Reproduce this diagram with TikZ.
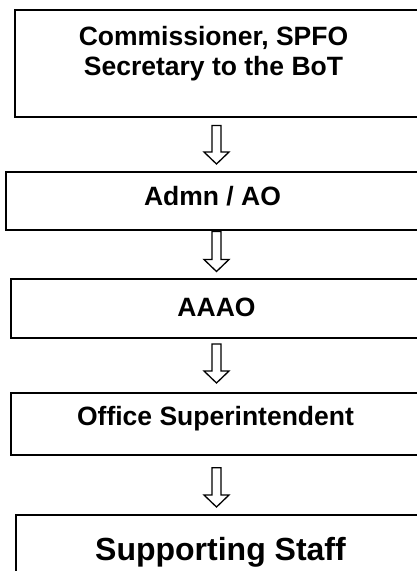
\documentclass[tikz,border=0pt]{standalone}
\usepackage{fontspec}
\setmainfont{Liberation Sans}
\usetikzlibrary{calc}
\newcommand\blockarrow[2]{%
  \draw[blockarrow] ($(#1)+(-4.5,0)$) -- ($(#2)+(-4.5,-12)$) -- ($(#2)+(-12.5,-12)$) -- (#2)
    -- ($(#2)+(12.5,-12)$) -- ($(#2)+(4.5,-12)$) -- ($(#1)+(4.5,0)$) -- cycle;}
\begin{document}
\begin{tikzpicture}[x=1pt,y=-1pt,
  box/.style={draw=black, line width=2pt, rectangle, inner sep=0pt, fill=white},
  lbl/.style={font=\bfseries\fontsize{26.5}{29.3}\selectfont, inner sep=0pt, anchor=base, align=center},
  biglbl/.style={lbl, font=\bfseries\fontsize{32}{36}\selectfont},
  blockarrow/.style={draw=black, line width=1.3pt, fill=white, line join=miter}]
\useasboundingbox (0,0) rectangle (417,571);
\clip (0,0) rectangle (417,571);
\coordinate (ax) at (216.5,0);
% boxes
\node[box, minimum width=415pt, minimum height=107pt] (b1) at (222.5,63) {};
\node[box, minimum width=424pt, minimum height=57.5pt] (b2) at (218,200.75) {};
\node[box, minimum width=419pt, minimum height=58.7pt] (b3) at (220.5,308.35) {};
\node[box, minimum width=419pt, minimum height=62.3pt] (b4) at (220.5,423.85) {};
\node[box, minimum width=414pt, minimum height=85pt] (b5) at (223,557.5) {};
% texts
\node[lbl] (t1) at (213.5,75) {Commissioner, SPFO\\Secretary to the BoT};
\node[lbl] (t2) at (212.5,205) {Admn / AO};
\node[lbl] (t3) at (216.5,316) {AAAO};
\node[lbl] (t4) at (215.5,425) {Office Superintendent};
\node[biglbl] (t5) at (220.5,560) {Supporting Staff};
% connector coordinates
\coordinate (a1s) at ($(b1.south -| ax)+(0,8)$);
\coordinate (a1e) at ($(b2.north -| ax)+(0,-7)$);
\coordinate (a2s) at ($(b2.south -| ax)+(0,1)$);
\coordinate (a2e) at ($(b3.north -| ax)+(0,-6.5)$);
\coordinate (a3s) at ($(b3.south -| ax)+(0,5.3)$);
\coordinate (a3e) at ($(b4.north -| ax)+(0,-8.7)$);
\coordinate (a4s) at ($(b4.south -| ax)+(0,11.7)$);
\coordinate (a4e) at ($(b5.north -| ax)+(0,-7)$);
\blockarrow{a1s}{a1e}
\blockarrow{a2s}{a2e}
\blockarrow{a3s}{a3e}
\blockarrow{a4s}{a4e}
\end{tikzpicture}
\end{document}
